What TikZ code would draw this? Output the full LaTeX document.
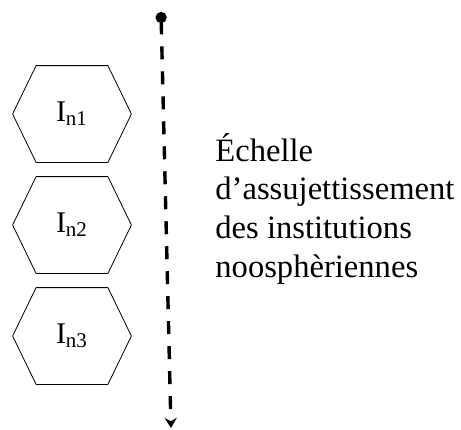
\documentclass[tikz,border=0pt]{standalone}
\usepackage{fontspec}
\setmainfont{Liberation Serif}
\usetikzlibrary{positioning}
\usetikzlibrary{arrows.meta}

\begin{document}
\begin{tikzpicture}[
            x = 0.5pt, y = -0.5pt, % one unit = one pixel of the sketch
            node distance = 55.5pt, % distance between the hexagons
            thin
        ]

        \tikzset{
            hexbox/.style = {
                inner sep = 0pt,
                minimum width = 35.5pt,
                minimum height = 48pt,
                font = \fontsize{15}{18}\selectfont
            },
            scaleline/.style = {
                line width = 1.7pt,
                dash pattern = on 6.5pt off 6pt,
                {Circle[length=5.5pt]}-{Stealth[length=5pt, width=6pt]}
            }
        }

        \useasboundingbox (0,0) rectangle (461,429);

	% institutions
        \node[hexbox] (I1) at (72,114) {I\textsubscript{n1}};
        \node[hexbox] (I2) [below of=I1] {I\textsubscript{n2}};
        \node[hexbox] (I3) [below of=I2] {I\textsubscript{n3}};

        \foreach \h in {I1, I2, I3}
            \draw (\h.north west) -- (\h.north east) -- ([xshift=11.75pt]\h.east)
                -- (\h.south east) -- (\h.south west) -- ([xshift=-11.75pt]\h.west) -- cycle;

         % scale
         \coordinate (top) at (161,12);
         \coordinate (bot) at (171,428);
         \draw[scaleline] (top) -- (bot);

         \node[anchor=north west, inner sep=0pt, align=left,
               font=\fontsize{16.3}{19.3}\selectfont] (label) at (215,133)
               {Échelle\\d’assujettissement\\des institutions\\noosphèriennes};

  \end{tikzpicture}
\end{document}
